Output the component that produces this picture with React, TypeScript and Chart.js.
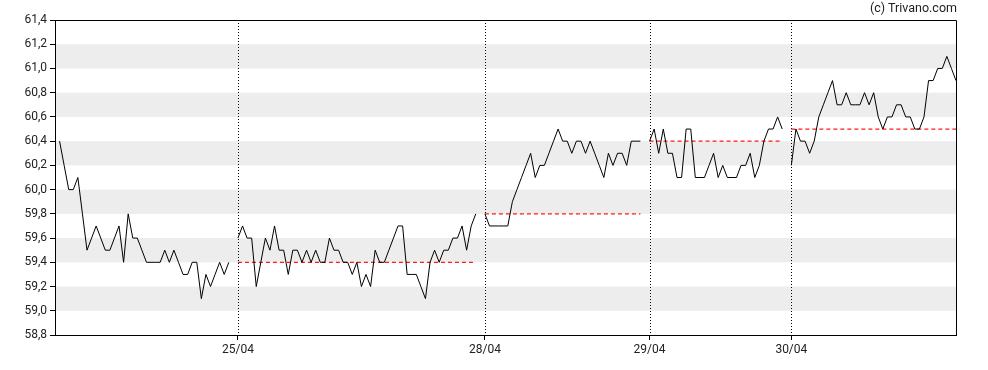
import React, { useEffect, useRef } from 'react';
import { Chart, registerables } from 'chart.js';

Chart.register(...registerables);

// ---- data ----
const dayLabels = ['25/04', '28/04', '29/04', '30/04'];
const dayStartSlots = [0, 39, 93, 129, 160];

const day1Values = [60.4, 60.2, 60.0, 60.0, 60.1, 59.8, 59.5, 59.6, 59.7, 59.6, 59.5, 59.5, 59.6, 59.7, 59.4, 59.8, 59.6, 59.6, 59.5, 59.4, 59.4, 59.4, 59.4, 59.5, 59.4, 59.5, 59.4, 59.3, 59.3, 59.4, 59.4, 59.1, 59.3, 59.2, 59.3, 59.4, 59.3, 59.4];
const day2Values = [59.6, 59.7, 59.6, 59.6, 59.2, 59.4, 59.6, 59.5, 59.7, 59.5, 59.5, 59.3, 59.5, 59.5, 59.4, 59.5, 59.4, 59.5, 59.4, 59.4, 59.6, 59.5, 59.5, 59.4, 59.4, 59.3, 59.4, 59.2, 59.3, 59.2, 59.5, 59.4, 59.4, 59.5, 59.6, 59.7, 59.7, 59.3, 59.3, 59.3, 59.2, 59.1, 59.4, 59.5, 59.4, 59.5, 59.5, 59.6, 59.6, 59.7, 59.5, 59.7, 59.8];
const day3Values = [59.8, 59.7, 59.7, 59.7, 59.7, 59.7, 59.9, 60.0, 60.1, 60.2, 60.3, 60.1, 60.2, 60.2, 60.3, 60.4, 60.5, 60.4, 60.4, 60.3, 60.4, 60.4, 60.3, 60.4, 60.3, 60.2, 60.1, 60.3, 60.2, 60.3, 60.3, 60.2, 60.4, 60.4, 60.4];
const day4Values = [60.4, 60.5, 60.3, 60.5, 60.3, 60.3, 60.1, 60.1, 60.5, 60.5, 60.1, 60.1, 60.1, 60.2, 60.3, 60.1, 60.2, 60.1, 60.1, 60.1, 60.2, 60.2, 60.3, 60.1, 60.2, 60.4, 60.5, 60.5, 60.6, 60.5];
const day5Values = [60.2, 60.5, 60.4, 60.4, 60.3, 60.4, 60.6, 60.7, 60.8, 60.9, 60.7, 60.7, 60.8, 60.7, 60.7, 60.7, 60.8, 60.7, 60.8, 60.6, 60.5, 60.6, 60.6, 60.7, 60.7, 60.6, 60.6, 60.5, 60.5, 60.6, 60.9, 60.9, 61.0, 61.0, 61.1, 61.0, 60.9];
const prevCloses = [59.4, 59.8, 60.4, 60.5];

const yMin = 58.8;
const yMax = 61.4;
const yStep = 0.2;
const xMin = -1;
const xMax = 196;

const allDays = [day1Values, day2Values, day3Values, day4Values, day5Values];

const stripesPlugin = {
  id: 'stripes',
  beforeDraw(chart: any) {
    const { ctx, chartArea } = chart;
    const y = chart.scales.y;
    ctx.save();
    ctx.fillStyle = '#ededed';
    const n = Math.round((yMax - yMin) / yStep);
    for (let k = 1; k < n; k += 2) {
      const lo = yMin + k * yStep;
      const hi = lo + yStep;
      const p1 = y.getPixelForValue(hi);
      const p2 = y.getPixelForValue(lo);
      ctx.fillRect(chartArea.left, p1, chartArea.right - chartArea.left, p2 - p1);
    }
    ctx.restore();
  },
  beforeDatasetsDraw(chart: any) {
    const { ctx, chartArea } = chart;
    const x = chart.scales.x;
    ctx.save();
    ctx.strokeStyle = '#000';
    ctx.lineWidth = 1;
    ctx.setLineDash([1, 2]);
    dayStartSlots.slice(1).forEach((s) => {
      const px = Math.round(x.getPixelForValue(s)) + 0.5;
      ctx.beginPath();
      ctx.moveTo(px, chartArea.top);
      ctx.lineTo(px, chartArea.bottom);
      ctx.stroke();
    });
    ctx.setLineDash([]);
    ctx.beginPath();
    ctx.rect(Math.round(chartArea.left) + 0.5, Math.round(chartArea.top) + 0.5,
      Math.round(chartArea.right - chartArea.left), Math.round(chartArea.bottom - chartArea.top));
    ctx.stroke();
    ctx.restore();
  },
};

export default function App() {
  const ref = useRef<HTMLCanvasElement>(null);
  useEffect(() => {
    document.body.style.margin = '0';
    Chart.defaults.font.family = 'Roboto';
    Chart.defaults.font.size = 12;
    Chart.defaults.color = '#222';

    const datasets: any[] = [];
    allDays.forEach((vals, d) => {
      datasets.push({
        data: vals.map((v, i) => ({ x: dayStartSlots[d] + i, y: v })),
        borderColor: '#000',
        borderWidth: 1,
        pointRadius: 0,
        tension: 0,
        fill: false,
      });
    });
    prevCloses.forEach((v, d) => {
      const start = dayStartSlots[d + 1];
      const end = start + allDays[d + 1].length - 1;
      datasets.push({
        data: [{ x: start, y: v }, { x: end, y: v }],
        borderColor: '#ff1a1a',
        borderWidth: 1.2,
        borderDash: [4, 3],
        pointRadius: 0,
        fill: false,
      });
    });

    const chart = new Chart(ref.current!, {
      type: 'line',
      data: { datasets },
      plugins: [stripesPlugin],
      options: {
        animation: false,
        responsive: false,
        layout: { padding: { top: 20, right: 32, left: 0, bottom: 0 } },
        plugins: { legend: { display: false }, tooltip: { enabled: false } },
        scales: {
          x: {
            type: 'linear',
            min: xMin,
            max: xMax,
            afterBuildTicks: (s: any) => {
              s.ticks = dayStartSlots.slice(1).map((v) => ({ value: v }));
            },
            afterFit: (s: any) => { s.height = 35; },
            ticks: {
              autoSkip: false,
              maxRotation: 0,
              padding: 3,
              callback: (v: any) => {
                const idx = dayStartSlots.indexOf(Number(v));
                return idx > 0 ? dayLabels[idx - 1] : '';
              },
            },
            grid: { drawOnChartArea: false, tickLength: 5, color: '#000' },
            border: { color: '#000', width: 1 },
          },
          y: {
            min: yMin,
            max: yMax,
            afterFit: (s: any) => { s.width = 55; },
            ticks: {
              stepSize: yStep,
              padding: 3,
              callback: (v: any) => Number(v).toFixed(1).replace('.', ','),
            },
            grid: { drawOnChartArea: false, tickLength: 5, color: '#000' },
            border: { color: '#000', width: 1 },
          },
        },
      },
    });
    return () => chart.destroy();
  }, []);

  return (
    <div style={{ position: 'relative', width: 988, height: 370 }}>
      <canvas ref={ref} width={988} height={370} style={{ display: 'block' }} />
      <div style={{ position: 'absolute', right: 31, top: 1, font: '12.5px Roboto', lineHeight: '14px', color: '#222' }}>
        (c) Trivano.com
      </div>
    </div>
  );
}
